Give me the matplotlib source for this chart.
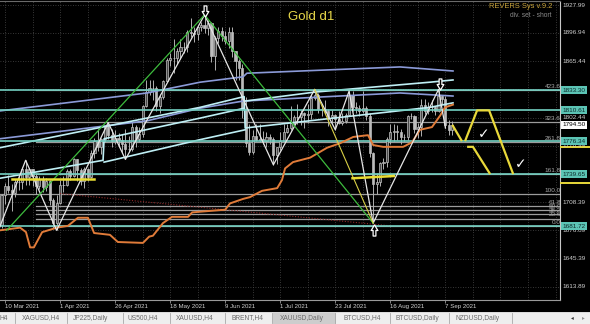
import numpy as np
import matplotlib
matplotlib.use("Agg")
import matplotlib.pyplot as plt
import matplotlib.transforms as mtransforms
from matplotlib.patches import Rectangle
from matplotlib.lines import Line2D
from matplotlib.path import Path

plt.rcParams['font.family'] = ['Liberation Sans', 'DejaVu Sans']

# XAUUSD daily, 8 Mar 2021 .. 9 Sep 2021 (bar 0 = 10 Mar, Good Friday skipped)
opens = [1699, 1683, 1716, 1726, 1722, 1719, 1731, 1731, 1745, 1736, 1745, 1738, 1726, 1734, 1725, 1732, 1711, 1685, 1707,
         1728, 1728, 1743, 1737, 1756, 1744, 1732, 1745, 1736, 1763, 1776, 1770, 1779, 1793, 1783, 1777, 1780, 1778, 1773,
         1768, 1768, 1792, 1779, 1784, 1815, 1831, 1836, 1836, 1815, 1826, 1843, 1867, 1869, 1869, 1877, 1881, 1881, 1898,
         1897, 1896, 1903, 1906, 1902, 1908, 1871, 1891, 1899, 1893, 1888, 1898, 1877, 1866, 1858, 1812, 1774, 1764, 1782,
         1778, 1779, 1776, 1781, 1779, 1761, 1770, 1776, 1787, 1791, 1796, 1803, 1803, 1808, 1805, 1807, 1824, 1828, 1812,
         1812, 1810, 1803, 1805, 1801, 1797, 1799, 1806, 1828, 1814, 1813, 1810, 1813, 1804, 1763, 1729, 1731, 1752, 1753,
         1779, 1786, 1788, 1787, 1781, 1781, 1804, 1804, 1790, 1792, 1817, 1810, 1814, 1814, 1810, 1827, 1823, 1794, 1789]
highs = [1700, 1718, 1730, 1739, 1729, 1734, 1740, 1748, 1755, 1746, 1745, 1741, 1737, 1737, 1735, 1733, 1713, 1716, 1733,
         1738, 1745, 1745, 1758, 1756, 1746, 1748, 1746, 1766, 1780, 1790, 1780, 1794, 1797, 1790, 1789, 1785, 1784, 1790,
         1782, 1798, 1794, 1792, 1817, 1844, 1845, 1844, 1838, 1829, 1845, 1869, 1875, 1890, 1880, 1890, 1887, 1900, 1913,
         1904, 1905, 1909, 1917, 1911, 1909, 1894, 1903, 1904, 1899, 1903, 1903, 1877, 1868, 1862, 1826, 1795, 1789, 1795,
         1795, 1788, 1786, 1784, 1781, 1770, 1786, 1795, 1795, 1815, 1806, 1818, 1811, 1809, 1818, 1829, 1834, 1830, 1818,
         1822, 1812, 1811, 1807, 1810, 1808, 1808, 1832, 1832, 1820, 1817, 1832, 1815, 1808, 1764, 1741, 1753, 1758, 1781,
         1795, 1795, 1794, 1790, 1784, 1806, 1808, 1806, 1796, 1823, 1823, 1820, 1822, 1816, 1834, 1828, 1827, 1800, 1799]
lows = [1676, 1680, 1706, 1719, 1699, 1714, 1722, 1723, 1728, 1727, 1726, 1718, 1723, 1720, 1721, 1705, 1680, 1677, 1706,
        1720, 1726, 1733, 1736, 1732, 1727, 1724, 1732, 1735, 1758, 1765, 1762, 1775, 1779, 1770, 1773, 1770, 1763, 1756,
        1764, 1765, 1770, 1775, 1781, 1814, 1828, 1822, 1810, 1808, 1823, 1843, 1860, 1852, 1862, 1868, 1874, 1876, 1892,
        1887, 1889, 1899, 1897, 1895, 1865, 1856, 1886, 1888, 1885, 1880, 1870, 1845, 1845, 1802, 1770, 1761, 1762, 1776,
        1775, 1773, 1770, 1773, 1750, 1751, 1767, 1776, 1785, 1789, 1794, 1795, 1794, 1791, 1797, 1801, 1822, 1808, 1804,
        1807, 1793, 1796, 1789, 1795, 1794, 1797, 1804, 1810, 1808, 1804, 1808, 1800, 1759, 1685, 1717, 1726, 1745, 1748,
        1773, 1776, 1778, 1773, 1776, 1778, 1801, 1785, 1780, 1782, 1807, 1807, 1809, 1806, 1809, 1818, 1791, 1783, 1783]
closes = [1683, 1716, 1726, 1722, 1719, 1731, 1731, 1745, 1736, 1745, 1738, 1726, 1734, 1725, 1732, 1711, 1685, 1707, 1728,
          1728, 1743, 1737, 1756, 1744, 1732, 1745, 1736, 1763, 1776, 1770, 1779, 1793, 1783, 1777, 1780, 1778, 1773, 1768,
          1768, 1792, 1779, 1784, 1815, 1831, 1836, 1836, 1815, 1826, 1843, 1867, 1869, 1869, 1877, 1881, 1881, 1898, 1897,
          1896, 1903, 1906, 1902, 1908, 1871, 1891, 1899, 1893, 1888, 1898, 1877, 1866, 1858, 1812, 1774, 1764, 1782, 1778,
          1779, 1776, 1781, 1779, 1761, 1770, 1776, 1787, 1791, 1796, 1803, 1803, 1808, 1805, 1807, 1824, 1828, 1812, 1812,
          1810, 1803, 1805, 1801, 1797, 1799, 1806, 1828, 1814, 1813, 1810, 1813, 1804, 1763, 1729, 1731, 1752, 1753, 1779,
          1786, 1788, 1787, 1781, 1781, 1804, 1804, 1790, 1792, 1817, 1810, 1814, 1814, 1810, 1827, 1823, 1794, 1789, 1794.5]

date_ticks = [0, 16, 32, 48, 64, 80, 96, 112, 128]
date_labels = ["10 Mar 2021", "1 Apr 2021", "26 Apr 2021", "18 May 2021", "9 Jun 2021",
               "1 Jul 2021", "23 Jul 2021", "16 Aug 2021", "7 Sep 2021"]

grid_levels = [1927.99, 1896.94, 1865.44, 1833.94, 1802.44, 1770.94, 1739.44, 1708.39, 1676.89, 1645.39, 1613.89]

# horizontal levels with labels on the price scale
teal_levels = [1833.30, 1810.61, 1776.34, 1739.65, 1681.72]
last_price = 1794.50

# fibonacci expansion
fib_base = 1681.72
fib_range = 35.8
fib_pcts = [0.0, 23.6, 38.2, 50.0, 61.8, 100.0, 161.8, 261.8, 323.6, 423.6]

# zigzag (white)
zz_bar = [-2, 6, 15, 30, 35, 58, 78, 90, 96, 100, 107, 126, 128]
zz_px = [1676, 1755, 1677, 1797, 1756, 1917, 1750, 1834, 1789, 1832, 1685, 1834, 1791]

# trend lines
green_bar = [[0.5, 58], [58, 107]]
green_px = [[1677, 1917], [1917, 1685]]
yel_bar = [90, 107]
yel_px = [1834, 1685]
red_bar = [16, 112]
red_px = [1718, 1682]

# short thick yellow levels
ylev_bar = [[2, 26], [101, 113]]
ylev_px = [[1734, 1734], [1735, 1737.5]]

# projected path (yellow)
proj_bar = [[130, 132.8], [133.7, 137.2, 140.7, 147.7], [134.3, 136, 141]]
proj_px = [[1794.5, 1776.3], [1776.3, 1810.6, 1810.6, 1739.65], [1770, 1770, 1739.65]]

# envelope lines
b1_bar = [-1.5, 41.3, 56.7, 69.2, 70.3, 114.8, 130.2]
b1_px = [1810, 1830, 1842, 1848, 1852, 1859, 1854.5]
b2_bar = [-1.5, 41.3, 56.7, 69.2, 91.6, 114.8, 130.2]
b2_px = [1779, 1799, 1813, 1821, 1825.5, 1830, 1826.6]
w1_bar = [69.8, 90.1, 123.5, 130.2]
w1_px = [1821, 1831, 1842, 1844.5]
w2_bar = [-1.5, 56.7, 69.5, 69.8, 123.5, 130.2]
w2_px = [1769, 1814, 1826, 1791, 1814, 1819]
w3_bar = [-1.5, 28.5, 28.8, 56.7, 69.5]
w3_px = [1735, 1755, 1779, 1802, 1813]
w4_bar = [28.8, 56.7, 69.8]
w4_px = [1753, 1778, 1789]

# orange trailing line
or_bar = [-1.5, 4.4, 6.1, 7.3, 8.4, 10.8, 15.1, 18.3, 21.2, 24.1, 25.9, 30.5, 32.8, 40.1, 41.9, 43, 45.9, 48.5,
          53.2, 54.4, 64, 65.4, 69.2, 71.2, 74.7, 79.1, 80.5, 81.4, 83.7, 88.7, 93.6, 97.4, 101.2, 105.5, 107,
          109.9, 115.7, 118.3, 120.6, 124.1, 126.5, 127.9, 130.2]
or_px = [1677, 1680, 1675, 1658, 1658, 1675, 1680, 1682, 1691, 1691, 1674, 1672, 1664, 1663, 1670, 1671, 1685, 1692,
         1692, 1697, 1700, 1707, 1712, 1714, 1721, 1724, 1733, 1746, 1753, 1758, 1769, 1774, 1781, 1783, 1772,
         1770, 1770, 1775, 1789, 1792, 1805, 1814, 1817]

# markers
down_arrows_bar = [58.2, 126.3]
down_arrows_px = [1921, 1839.5]
up_arrows_bar = [107.3]
up_arrows_px = [1677]
checks = [(139, 1784), (150, 1751)]

tabs = ["H4", "XAGUSD,H4", "JP225,Daily", "US500,H4", "XAUUSD,H4", "BRENT,H4",
        "XAUUSD,Daily", "BTCUSD,H4", "BTCUSD,Daily", "NZDUSD,Daily"]
tab_text_x = [0, 22, 73, 128, 176, 232, 280, 343, 396, 455]
tab_sep_x = [15, 67, 123, 170, 225, 272, 335, 390, 449, 512]

W, H = 590, 324
fig = plt.figure(figsize=(W / 100, H / 100), dpi=100, facecolor='black')
ax = fig.add_axes([0, 24 / H, 560 / W, 299 / H])
ax.set_facecolor('black')
ax.set_xlim(-1.45, 161.3)
ax.set_ylim(1599.4, 1932.45)

ax.spines['left'].set_visible(False)
ax.spines['top'].set_color('#6a6a6a')
ax.spines['bottom'].set_color('#9a9a9a')
ax.spines['right'].set_color('#c8c8c8')
for s in ['top', 'bottom', 'right']:
    ax.spines[s].set_linewidth(0.8)

# grid
for g in range(0, 162, 8):
    ax.axvline(g, color='#4a4a4a', lw=0.6, ls=(0, (1, 2)), zorder=0)
for lv in grid_levels:
    ax.axhline(lv, color='#4a4a4a', lw=0.6, ls=(0, (1, 2)), zorder=0)

# candles
bars = np.arange(len(closes)) - 2
o, hi, lo, c = map(np.array, (opens, highs, lows, closes))
up = c >= o
ax.vlines(bars, lo, hi, color='#b0b0b0', lw=0.7, zorder=2)
ax.bar(bars[up], (c - o)[up], bottom=o[up], width=0.62, color='#4a4a4a', edgecolor='#c4c4c4', lw=0.5, zorder=2)
ax.bar(bars[~up], (o - c)[~up], bottom=c[~up], width=0.62, color='#bcbcbc', edgecolor='#bcbcbc', lw=0.5, zorder=2)

# fib lines + labels
for p in fib_pcts:
    lv = fib_base + fib_range * p / 100
    start = -1.45 if p == 100.0 else 9
    ax.plot([start, 161.3], [lv, lv], color='#9c9c9c', lw=0.9, zorder=1)
    ax.text(161.6, lv + 1.3, f"{p:.1f}", ha='right', va='bottom', fontsize=4.6, color='#a8a8a8',
            clip_on=True, zorder=6)

ax.plot(red_bar, red_px, color='#8e2a2a', lw=0.8, ls=(0, (1, 1.5)), zorder=3)

# envelopes
for xs, ys, col in [(b1_bar, b1_px, '#8b9ad8'), (b2_bar, b2_px, '#8b9ad8'),
                    (w1_bar, w1_px, '#bfeff5'), (w2_bar, w2_px, '#bfeff5'),
                    (w3_bar, w3_px, '#bfeff5'), (w4_bar, w4_px, '#bfeff5')]:
    ax.plot(xs, ys, color=col, lw=1.2, zorder=3)

# teal levels
for lv in teal_levels:
    ax.axhline(lv, color='#73d0c2', lw=1.2, zorder=3)

ax.plot(or_bar, or_px, color='#e07b39', lw=1.4, zorder=4)

ax.plot(zz_bar, zz_px, color='#e6e6e6', lw=0.9, zorder=5)
for xs, ys in zip(green_bar, green_px):
    ax.plot(xs, ys, color='#3dbb3d', lw=0.9, zorder=5)
ax.plot(yel_bar, yel_px, color='#d9d046', lw=0.8, zorder=5)

for xs, ys in zip(ylev_bar, ylev_px):
    ax.plot(xs, ys, color='#e9dc33', lw=1.8, zorder=5)
for xs, ys in zip(proj_bar, proj_px):
    ax.plot(xs, ys, color='#e8d83a', lw=1.6, zorder=5, solid_capstyle='butt')
for lv in [1770, 1730]:
    ax.plot([161.5, 170], [lv, lv], color='#e8d83a', lw=1.4, clip_on=False, zorder=5)

# hollow arrows
down_arrow = Path([(-0.25, 1), (0.25, 1), (0.25, 0), (0.6, 0), (0, -1), (-0.6, 0), (-0.25, 0), (-0.25, 1)],
                  closed=True)
up_arrow = Path([(-0.25, -1), (0.25, -1), (0.25, 0), (0.6, 0), (0, 1), (-0.6, 0), (-0.25, 0), (-0.25, -1)],
                closed=True)
ax.plot(down_arrows_bar, down_arrows_px, ls='none', marker=down_arrow, markersize=8,
        mfc='black', mec='white', mew=0.9, zorder=7)
ax.plot(up_arrows_bar, up_arrows_px, ls='none', marker=up_arrow, markersize=8,
        mfc='black', mec='white', mew=0.9, zorder=7)
for xb, yp in checks:
    ax.text(xb, yp, '✓', family='DejaVu Sans', fontsize=10, color='white', ha='center', va='center', zorder=7)

# titles
ax.text(311 / 560, 0.9465, 'Gold d1', transform=ax.transAxes, ha='center', va='center',
        fontsize=9.5, color='#e8d84a')
ax.text(552 / 560, 0.983, 'REVERS Sys v.9.2', transform=ax.transAxes, ha='right', va='center',
        fontsize=5.4, color='#c9a43a')
ax.text(552 / 560, 0.953, 'div. set - short', transform=ax.transAxes, ha='right', va='center',
        fontsize=4.8, color='#8a8a8a')

# price scale
tr = mtransforms.blended_transform_factory(ax.transAxes, ax.transData)
for lv in grid_levels:
    ax.text(1.0045, lv, f"{lv:.2f}", transform=tr, ha='left', va='center', fontsize=4.6,
            color='#d0d0d0', clip_on=False, zorder=8)
for lv in teal_levels:
    ax.text(1.0045, lv, f"{lv:.2f}", transform=tr, ha='left', va='center', fontsize=4.6,
            color='#0d2b2b', clip_on=False, zorder=9,
            bbox=dict(boxstyle='square,pad=0.22', fc='#5cc4b5', ec='none'))
ax.text(1.0045, last_price, f"{last_price:.2f}", transform=tr, ha='left', va='center', fontsize=4.6,
        color='black', clip_on=False, zorder=9,
        bbox=dict(boxstyle='square,pad=0.22', fc='white', ec='none'))

# date axis
ax.set_xticks(date_ticks)
ax.set_xticklabels(date_labels, ha='left', fontsize=4.4, color='#d0d0d0')
ax.tick_params(axis='x', length=2, width=0.6, color='#9a9a9a', pad=0.6)
ax.set_yticks([])

# tab bar
fig.patches.append(Rectangle((0, 0), 1, 12 / H, transform=fig.transFigure, fc='#eeeeee', ec='none'))
fig.patches.append(Rectangle((273 / W, 0), 63 / W, 12 / H, transform=fig.transFigure, fc='#cdcdcd', ec='none'))
fig.lines.append(Line2D([0, 1], [12 / H, 12 / H], transform=fig.transFigure, color='#d8d8d8', lw=0.6))
for xs in tab_sep_x:
    fig.lines.append(Line2D([xs / W, xs / W], [1 / H, 11 / H], transform=fig.transFigure, color='#a8a8a8', lw=0.6))
for name, xs in zip(tabs, tab_text_x):
    fig.text(xs / W, 6 / H, name, fontsize=4.8, color='#6a6a6a', va='center', ha='left')
fig.text(572 / W, 6 / H, '◂', family='DejaVu Sans', fontsize=4, color='#303030', va='center', ha='center')
fig.text(583 / W, 6 / H, '▸', family='DejaVu Sans', fontsize=4, color='#909090', va='center', ha='center')

fig.savefig('out.png', dpi=100, facecolor='black')
